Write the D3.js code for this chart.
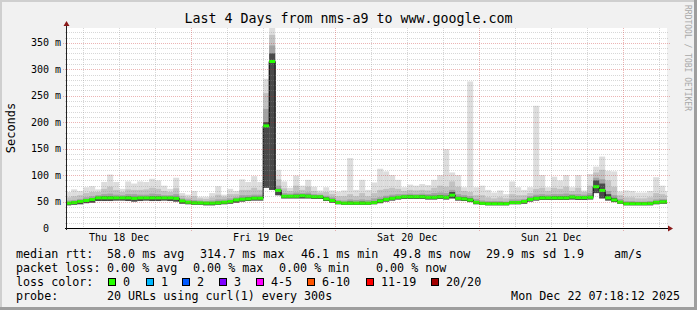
<!DOCTYPE html>
<html>
<head>
<meta charset="utf-8">
<style>
body { margin: 0; background: #f1f1f1; }
text { font-family: "DejaVu Sans Mono", monospace; }
</style>
</head>
<body>
<script src="https://d3js.org/d3.v7.min.js"></script>
<script>
// one column per hour, the first one starts Thu 18 Dec 03:00 (UTC used as local)
const FIRST_HOUR = Date.UTC(2025, 11, 18, 3)
const GRAPH_START = Date.UTC(2025, 11, 18, 3, 18, 12)
const GRAPH_END = Date.UTC(2025, 11, 22, 7, 18, 12)

// milliseconds
const MEDIAN = [47,48,50,52,54,57,57,57,57,57, 57,56,57,57,57,57,57,57,56,51,
  48.7,47.5,47.5,47,47,47.5,48.7,50,53,54.4, 55,56.3,56.3,193,314.7,71,60,60,60,61,
  60,59,59,55,52,48,47,47,47,47, 47,48,51,54,56,58,59,59,59,59,
  58,58,59,58,62,56,55,53,48.6,46.7, 46,46,46,46,48,48,50,54,56,57,
  57,57,57,57,58.5,57.5,57.5,58,78,71, 57,53,49,46,46,46,46,46.5,48.6,49.3, 49.8]
const LOW = [43,44,45,47,48,51,51,51,52,52, 51,50,51,52,51,51,52,51,50,46,
  45,44,44,43,43,44,45,46,48,50, 51,52,52,76,72,62,56,56,56,56,
  56,55,55,51,48,45,44,44,44,44, 44,45,47,50,52,54,55,55,55,55,
  54,54,55,54,56,52,51,49,45,44, 43,43,43,43,45,45,46,50,52,53,
  53,53,53,53,54,53,53,54,66,56, 52,49,46,43,43,43,43,43,45,46, 46]
const P60 = [49,50,52,54,56,59,60,60,59,59, 60,59,59,59,60,60,59,59,59,53,
  51,50,49,49,49,50,51,52,55,57, 58,59,59,200,330,74,62,62,63,63,
  63,61,61,58,55,50,49,50,49,50, 49,51,54,57,59,60,61,62,61,62,
  61,61,62,61,68,59,58,56,51,49, 48,48,48,48,50,50,52,57,59,60,
  59,60,60,60,61,60,60,61,90,84, 64,57,51,48,48,48,48,49,51,52, 52]
const P75 = [52,53,55,58,60,62,64,65,63,62, 64,64,63,63,65,64,62,62,64,56,
  54,53,52,51,52,54,54,56,58,62, 62,63,63,225,345,80,66,65,67,66,
  67,64,63,61,58,53,52,54,53,54, 53,56,58,61,63,64,64,65,64,65,
  64,66,67,66,72,64,62,60,55,52, 51,51,51,50,54,54,55,60,63,64,
  63,64,64,65,64,64,63,66,95,92, 70,62,55,51,51,50,50,51,54,55, 55]
const P90 = [58,60,62,66,68,68,74,78,72,68, 73,72,72,73,76,74,70,68,75,61,
  58,60,56,55,58,63,59,64,64,72, 72,76,72,255,365,92,75,70,80,72,
  78,70,67,68,64,60,60,64,60,66, 60,66,72,74,76,74,70,72,71,72,
  71,76,80,78,88,78,70,68,62,62, 58,56,58,56,64,62,62,66,74,76,
  70,76,74,78,70,76,68,80,105,110, 90,78,62,58,58,56,56,58,66,64, 62]
const HIGH = [68,73,70,77,79,73,87,101,87,74, 88,84,88,87,93,90,80,74,95,66,
  63,70,59,59,66,79,63,74,70,92, 87,98,87,282,400,110,88,76,99,80,
  91,78,71,77,71,69,71,132,72,91, 72,86,112,107,100,91,77,82,80,83,
  81,91,100,149,105,100,77,277,77,80, 72,67,71,64,88,77,72,77,231,100,
  77,97,90,100,77,100,71,102,116,135, 108,107,69,71,70,67,67,70,96,80, 70]

const Y_TICKS = [0, 50, 100, 150, 200, 250, 300, 350]
const Y_LABELS = ['0', '50 m', '100 m', '150 m', '200 m', '250 m', '300 m', '350 m']
const DAY_LABELS = ['Thu 18 Dec', 'Fri 19 Dec', 'Sat 20 Dec', 'Sun 21 Dec']
const DAY_NOONS = [Date.UTC(2025, 11, 18, 12), Date.UTC(2025, 11, 19, 12), Date.UTC(2025, 11, 20, 12), Date.UTC(2025, 11, 21, 12)]

const RTT_ITEMS = ['median rtt:', '58.0 ms avg', '314.7 ms max', '46.1 ms min', '49.8 ms now', '29.9 ms sd', '1.9', 'am/s']
const LOSS_ITEMS = ['packet loss:', '0.00 % avg', '0.00 % max', '0.00 % min', '0.00 % now']
const LOSS_LABELS = ['0', '1', '2', '3', '4-5', '6-10', '11-19', '20/20']
const LOSS_COLORS = ['#26ff00', '#00b8ff', '#0059ff', '#7e00ff', '#ff00ff', '#ff5500', '#ff0000', '#a10000']
const PROBE_ITEMS = ['probe:', '20 URLs using curl(1) every 300s']
const STAMP = 'Mon Dec 22 07:18:12 2025'

const WIDTH = 697
const HEIGHT = 310
const LEFT = 67, RIGHT = 667, TOP = 28, BOTTOM = 228

const svg = d3.select('body').append('svg').attr('width', WIDTH).attr('height', HEIGHT)

// background + rrdtool shade frame
svg.append('rect').attr('width', WIDTH).attr('height', HEIGHT).attr('fill', '#f1f1f1')
svg.append('rect').attr('width', WIDTH).attr('height', 2).attr('fill', '#cfcfcf')
svg.append('rect').attr('width', 2).attr('height', HEIGHT).attr('fill', '#cfcfcf')
svg.append('rect').attr('y', HEIGHT - 3).attr('width', WIDTH).attr('height', 3).attr('fill', '#9e9e9e')
svg.append('rect').attr('x', WIDTH - 3).attr('width', 3).attr('height', HEIGHT).attr('fill', '#9e9e9e')

const x = d3.scaleUtc().domain([GRAPH_START, GRAPH_END]).range([LEFT, RIGHT])
const y = d3.scaleLinear().domain([0, 378]).range([BOTTOM, TOP])

svg.append('rect').attr('x', LEFT).attr('y', TOP).attr('width', RIGHT - LEFT).attr('height', BOTTOM - TOP).attr('fill', 'white')

svg.append('clipPath').attr('id', 'plot')
  .append('rect').attr('x', LEFT).attr('y', TOP).attr('width', RIGHT - LEFT).attr('height', BOTTOM - TOP)

const cols = MEDIAN.map((m, i) => ({
  t0: FIRST_HOUR + i * 3600e3,
  t1: FIRST_HOUR + (i + 1) * 3600e3,
  med: m, lo: LOW[i], p60: P60[i], p75: P75[i], p90: P90[i], hi: HIGH[i]
}))

const g = svg.append('g').attr('clip-path', 'url(#plot)')

// smoke: light outer band to dark inner band
const bands = [['hi', '#dddddd'], ['p90', '#c2c2c2'], ['p75', '#a3a3a3'], ['p60', '#4a4a4a']]
bands.forEach(([key, color]) => {
  g.selectAll(null).data(cols).enter().append('rect')
    .attr('x', d => x(d.t0))
    .attr('width', d => x(d.t1) - x(d.t0))
    .attr('y', d => y(d[key]))
    .attr('height', d => y(d.lo) - y(d[key]))
    .attr('fill', color)
})

// median step line with loss colour band
const stepLine = d3.line().x(d => x(d.t0)).y(d => y(d.med)).curve(d3.curveStepAfter)
g.append('path').datum(cols.concat([{ t0: cols[cols.length - 1].t1, med: MEDIAN[MEDIAN.length - 1] }]))
  .attr('d', stepLine).attr('fill', 'none').attr('stroke', '#000').attr('stroke-width', 1)

g.selectAll(null).data(cols).enter().append('rect')
  .attr('x', d => x(d.t0))
  .attr('width', d => x(d.t1) - x(d.t0))
  .attr('y', d => y(d.med) - 1.5)
  .attr('height', 3)
  .attr('fill', LOSS_COLORS[0])

// grid on top (dotted)
const minorColor = 'rgba(140,140,140,0.35)'
const majorColor = 'rgba(200,40,40,0.35)'
d3.range(10, 378, 10).filter(v => v % 50 !== 0).forEach(v => {
  svg.append('line').attr('x1', LEFT - 2).attr('x2', RIGHT + 2)
    .attr('y1', Math.round(y(v)) + 0.5).attr('y2', Math.round(y(v)) + 0.5)
    .attr('stroke', minorColor).attr('stroke-dasharray', '1,1')
})
Y_TICKS.slice(1).forEach(v => {
  svg.append('line').attr('x1', LEFT - 4).attr('x2', RIGHT + 4)
    .attr('y1', Math.round(y(v)) + 0.5).attr('y2', Math.round(y(v)) + 0.5)
    .attr('stroke', majorColor).attr('stroke-dasharray', '1,1')
})
x.ticks(d3.utcHour.every(6)).filter(t => t.getUTCHours() !== 0).forEach(t => {
  svg.append('line').attr('x1', Math.round(x(t)) + 0.5).attr('x2', Math.round(x(t)) + 0.5)
    .attr('y1', TOP).attr('y2', BOTTOM + 2)
    .attr('stroke', minorColor).attr('stroke-dasharray', '1,1')
})
x.ticks(d3.utcDay.every(1)).forEach(t => {
  svg.append('line').attr('x1', Math.round(x(t)) + 0.5).attr('x2', Math.round(x(t)) + 0.5)
    .attr('y1', TOP).attr('y2', BOTTOM + 4)
    .attr('stroke', majorColor).attr('stroke-dasharray', '1,1')
})

// axes
svg.append('line').attr('x1', LEFT - 2).attr('x2', RIGHT + 5).attr('y1', BOTTOM + 0.5).attr('y2', BOTTOM + 0.5).attr('stroke', '#000')
svg.append('line').attr('x1', LEFT - 0.5).attr('x2', LEFT - 0.5).attr('y1', BOTTOM + 2).attr('y2', TOP - 5).attr('stroke', '#222')
svg.append('path').attr('d', `M${RIGHT + 6},${BOTTOM + 0.5}l-5,-3v6z`).attr('fill', '#8a1a1a')
svg.append('path').attr('d', `M${LEFT - 0.5},${TOP - 7}l-3,5h6z`).attr('fill', '#8a1a1a')

// y labels
svg.selectAll('.ylab').data(Y_TICKS).enter().append('text')
  .attr('x', (d, i) => i === 0 ? 49 : 61)
  .attr('y', d => y(d) + 3.5)
  .attr('text-anchor', 'end')
  .attr('font-size', 10)
  .text((d, i) => Y_LABELS[i])

// x labels
svg.selectAll('.xlab').data(DAY_NOONS).enter().append('text')
  .attr('x', d => x(d))
  .attr('y', 241)
  .attr('text-anchor', 'middle')
  .attr('font-size', 10)
  .text((d, i) => DAY_LABELS[i])

// title
svg.append('text').attr('x', WIDTH / 2).attr('y', 23).attr('text-anchor', 'middle')
  .attr('font-size', 13.3).text('Last 4 Days from nms-a9 to www.google.com')

// unit label
svg.append('text').attr('transform', `translate(15,${(TOP + BOTTOM) / 2}) rotate(-90)`)
  .attr('text-anchor', 'middle').attr('font-size', 12)
  .attr('font-family', '"DejaVu Sans", sans-serif').text('Seconds')

// watermark
svg.append('text').attr('transform', 'translate(685,5) rotate(90)')
  .attr('font-size', 8).attr('fill', '#a8a8a8').text('RRDTOOL / TOBI OETIKER')

// legend
const FS = 11.7
const RTT_X = [16, 107, 200, 301, 393, 486, 563, 614]
const LOSS_X = [16, 107, 193, 279, 376]
const SWATCH_X = [108, 146, 182, 219, 256, 307, 366, 431]

RTT_ITEMS.forEach((s, i) => svg.append('text').attr('x', RTT_X[i]).attr('y', 258).attr('font-size', FS).text(s))
LOSS_ITEMS.forEach((s, i) => svg.append('text').attr('x', LOSS_X[i]).attr('y', 272).attr('font-size', FS).text(s))
svg.append('text').attr('x', 16).attr('y', 286).attr('font-size', FS).text('loss color:')
LOSS_LABELS.forEach((s, i) => {
  svg.append('rect').attr('x', SWATCH_X[i] + 0.5).attr('y', 278.5).attr('width', 7).attr('height', 7)
    .attr('fill', LOSS_COLORS[i]).attr('stroke', '#000')
  svg.append('text').attr('x', SWATCH_X[i] + 15).attr('y', 286).attr('font-size', FS).text(s)
})
svg.append('text').attr('x', 16).attr('y', 300).attr('font-size', FS).text(PROBE_ITEMS[0])
svg.append('text').attr('x', 107).attr('y', 300).attr('font-size', FS).text(PROBE_ITEMS[1])
svg.append('text').attr('x', 680).attr('y', 300).attr('text-anchor', 'end').attr('font-size', FS).text(STAMP)
</script>
</body>
</html>
